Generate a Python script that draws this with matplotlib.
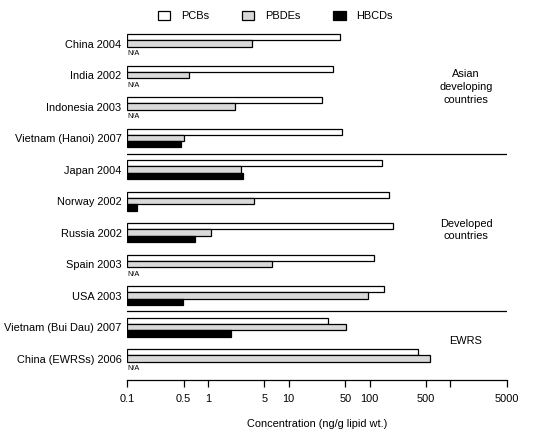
import matplotlib
matplotlib.use("Agg")
import matplotlib.pyplot as plt
from matplotlib.patches import Patch
import numpy as np

plt.rcParams['font.family'] = ['Liberation Sans', 'DejaVu Sans']

sites = ["China 2004", "India 2002", "Indonesia 2003", "Vietnam (Hanoi) 2007",
         "Japan 2004", "Norway 2002", "Russia 2002", "Spain 2003", "USA 2003",
         "Vietnam (Bui Dau) 2007", "China (EWRSs) 2006"]
pcbs = [42.5, 35, 26, 45.5, 142, 172, 194, 113, 149, 31, 392]
pbdes = [3.5, 0.59, 2.16, 0.51, 2.54, 3.75, 1.1, 6.25, 96, 51, 556]
hbcds = [None, None, None, 0.47, 2.74, 0.132, 0.70, None, 0.49, 1.91, None]

groups = ["Asian\ndeveloping\ncountries", "Developed\ncountries", "EWRS"]
group_pos = [1.38, 5.92, 9.44]
separators = [3.5, 8.5]

xticks = [0.1, 0.5, 1, 5, 10, 50, 100, 500, 1000, 5000]
xticklabels = ["0.1", "0.5", "1", "5", "10", "50", "100", "500", "", "5000"]

fs = 7.9

fig = plt.figure(figsize=(5.51, 4.38), dpi=100)
ax = fig.add_axes([0.2305, 0.1324, 0.6896, 0.8114])

base = 0.1
y = np.arange(len(sites))
h = 0.2
ax.barh(y - h, np.array(pcbs) - base, left=base, height=h, color="white",
        edgecolor="black", linewidth=0.9)
ax.barh(y, np.array(pbdes) - base, left=base, height=h, color="#d9d9d9",
        edgecolor="black", linewidth=0.9)
for i, v in enumerate(hbcds):
    if v is None:
        ax.text(0.102, i + 0.33, "N/A", fontsize=5.3, va="center", ha="left")
    else:
        ax.barh(i + h, v - base, left=base, height=h, color="black",
                edgecolor="black", linewidth=0.9)

for s in separators:
    ax.axhline(s, color="black", linewidth=0.9)

for g, p in zip(groups, group_pos):
    ax.text(0.892, p, g, transform=ax.get_yaxis_transform(), ha="center",
            va="center", fontsize=fs, linespacing=1.35)

ax.set_xscale("log")
ax.set_xlim(0.1, 5000)
ax.set_ylim(10.68, -0.6)
ax.set_xticks(xticks)
ax.set_xticklabels(xticklabels)
ax.xaxis.set_minor_locator(matplotlib.ticker.NullLocator())
ax.set_yticks(y)
ax.set_yticklabels(sites)
ax.tick_params(axis="y", length=0, pad=4, labelsize=fs)
ax.tick_params(axis="x", length=5, width=0.9, pad=5, labelsize=fs)
for sp in ["top", "right", "left"]:
    ax.spines[sp].set_visible(False)
ax.spines["bottom"].set_linewidth(0.9)
ax.set_xlabel("Concentration (ng/g lipid wt.)", fontsize=fs, labelpad=11)

handles = [Patch(facecolor="white", edgecolor="black", linewidth=0.9),
           Patch(facecolor="#d9d9d9", edgecolor="black", linewidth=0.9),
           Patch(facecolor="black", edgecolor="black", linewidth=0.9)]
fig.legend(handles, ["PCBs", "PBDEs", "HBCDs"], loc="center",
           bbox_to_anchor=(0.5, 0.963), ncol=3, frameon=False, fontsize=fs,
           handlelength=1.1, handleheight=0.8, handletextpad=1.0,
           columnspacing=3.0)

fig.savefig("out.png", dpi=100)
